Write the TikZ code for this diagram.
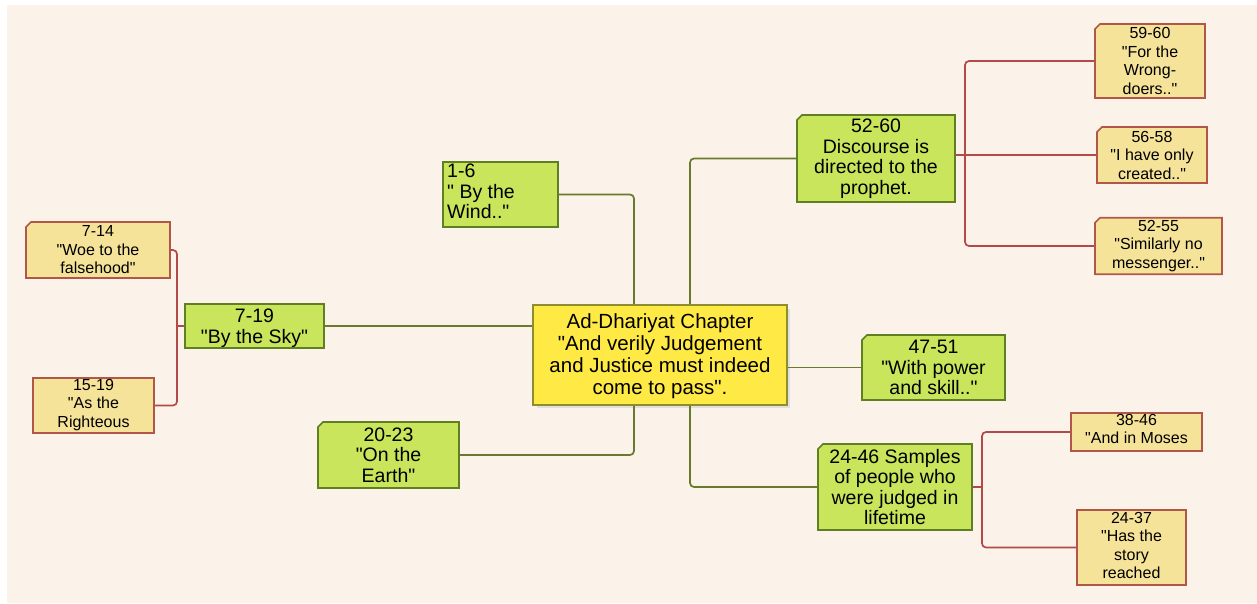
\documentclass[tikz,border=0pt]{standalone}
\usepackage{fontspec}
\setmainfont{Liberation Sans}[Ligatures=TeXOff]
\usetikzlibrary{shapes.misc}
\definecolor{bg}{HTML}{FBF2EA}
\definecolor{gfill}{HTML}{C8E55C}
\definecolor{gdraw}{HTML}{5F7F22}
\definecolor{rfill}{HTML}{FFEA45}
\definecolor{rdraw}{HTML}{8E8E2E}
\definecolor{yfill}{HTML}{F6E39A}
\definecolor{ydraw}{HTML}{B0574A}
\definecolor{gln}{HTML}{6A7A2C}
\definecolor{rln}{HTML}{B24A4A}
\tikzset{
  box/.style={chamfered rectangle, chamfered rectangle corners=north west,
    chamfered rectangle xsep=2.5pt, chamfered rectangle ysep=2.5pt,
    line width=1.7pt, inner sep=0pt, align=center},
  gbox/.style={box, fill=gfill, draw=gdraw, font=\fontsize{19.5}{20.5}\selectfont},
  rootbox/.style={box, fill=rfill, draw=rdraw},
  ybox/.style={box, fill=yfill, draw=ydraw, font=\fontsize{16}{18.5}\selectfont},
  gline/.style={draw=gln, line width=1.7pt, rounded corners=4pt},
  rline/.style={draw=rln, line width=1.7pt, rounded corners=4pt},
  txt/.style={inner sep=0pt, align=center},
}
\begin{document}
\begin{tikzpicture}[x=1pt,y=-1pt]
\useasboundingbox (0,0) rectangle (1257,603);
\fill[white] (0,0) rectangle (1257,603);
\fill[bg] (7,5) rectangle (1257,603);
% shadow
\fill[black!12] (537,309) rectangle (790,408);
% nodes
\node[rootbox, minimum width=254pt, minimum height=100pt] (r) at (660,355) {};
\node[txt, font=\fontsize{20.5}{22}\selectfont] (rt) at (660,356) {Ad-Dhariyat Chapter\\"And verily Judgement\\and Justice must indeed\\come to pass".};
\node[gbox, minimum width=115pt, minimum height=65pt] (n16) at (500.5,194.5) {};
\node[txt, align=left, anchor=north west, font=\fontsize{19.5}{20.5}\selectfont] (t16) at (447,164) {1-6\\" By the\\Wind.."};
\node[gbox, minimum width=141pt, minimum height=66pt] (n2023) at (388.5,455) {20-23\\"On the\\Earth"};
\node[gbox, minimum width=139pt, minimum height=44pt] (n719) at (254.5,326) {};
\node[txt, font=\fontsize{19.5}{20.5}\selectfont] (t719) at (254.5,328) {7-19\\"By the Sky"};
\node[ybox, minimum width=144pt, minimum height=56pt] (n714) at (98,250) {7-14\\"Woe to the\\falsehood"};
\node[ybox, minimum width=121pt, minimum height=55pt] (n1519) at (93.5,405.5) {};
\node[txt, anchor=north, font=\fontsize{16}{18.5}\selectfont] (t1519) at (93.5,379) {15-19\\"As the\\Righteous};
\node[gbox, minimum width=158pt, minimum height=87pt] (n5260) at (876,158.5) {52-60\\Discourse is\\directed to the\\prophet.};
\node[ybox, minimum width=110pt, minimum height=74pt] (n5960) at (1150,61) {59-60\\"For the\\Wrong-\\doers.."};
\node[ybox, minimum width=110pt, minimum height=56pt] (n5658) at (1152,155) {56-58\\"I have only\\created.."};
\node[ybox, minimum width=127pt, minimum height=56pt] (n5255) at (1158.5,246) {52-55\\"Similarly no\\messenger.."};
\node[gbox, minimum width=143pt, minimum height=65pt] (n4751) at (933.5,367.5) {47-51\\"With power\\and skill.."};
\node[gbox, minimum width=154pt, minimum height=86pt] (n2446) at (895,487) {24-46 Samples\\of people who\\were judged in\\lifetime};
\node[ybox, minimum width=131pt, minimum height=38pt] (n3846) at (1136.5,432) {};
\node[txt, anchor=north, font=\fontsize{16}{18.5}\selectfont] (t3846) at (1136.5,414) {38-46\\"And in Moses};
\node[ybox, minimum width=109pt, minimum height=75pt] (n2437) at (1131.5,547.5) {};
\node[txt, anchor=north, font=\fontsize{16}{18.5}\selectfont] (t2437) at (1131.5,512) {24-37\\"Has the\\story\\reached};
% bus coordinates
\coordinate (ja) at (634,0);
\coordinate (jb) at (690,0);
\coordinate (b1) at (965,0);
\coordinate (b2) at (982,0);
\coordinate (b3) at (177,0);
% root connectors
\draw[gline] (r.north -| ja) |- (n16.east);
\draw[gline] (r.south -| ja) |- (n2023.east);
\draw[gline] (r.north -| jb) |- (n5260.west);
\draw[gline] (r.south -| jb) |- (n2446.west);
\draw[gline] (n719.east) -- (n719.east -| r.west);
\draw[gline] (n4751.west) -- (n4751.west -| r.east);
% 52-60 children
\draw[rline] (n5260.east |- n5658.west) -- (n5658.west);
\draw[rline] (n5960.west) -| (n5658.west -| b1);
\draw[rline] (n5255.west) -| (n5658.west -| b1);
% 24-46 children
\draw[rline] (n2446.east) -- (n2446.east -| b2);
\draw[rline] (n3846.west) -| (n2446.east -| b2);
\draw[rline] (n2437.west) -| (n2446.east -| b2);
% 7-19 children
\draw[rline] (n719.west) -- (n719.west -| b3);
\draw[rline] (n714.east) -| (n719.west -| b3);
\draw[rline] (n1519.east) -| (n719.west -| b3);
\end{tikzpicture}
\end{document}
